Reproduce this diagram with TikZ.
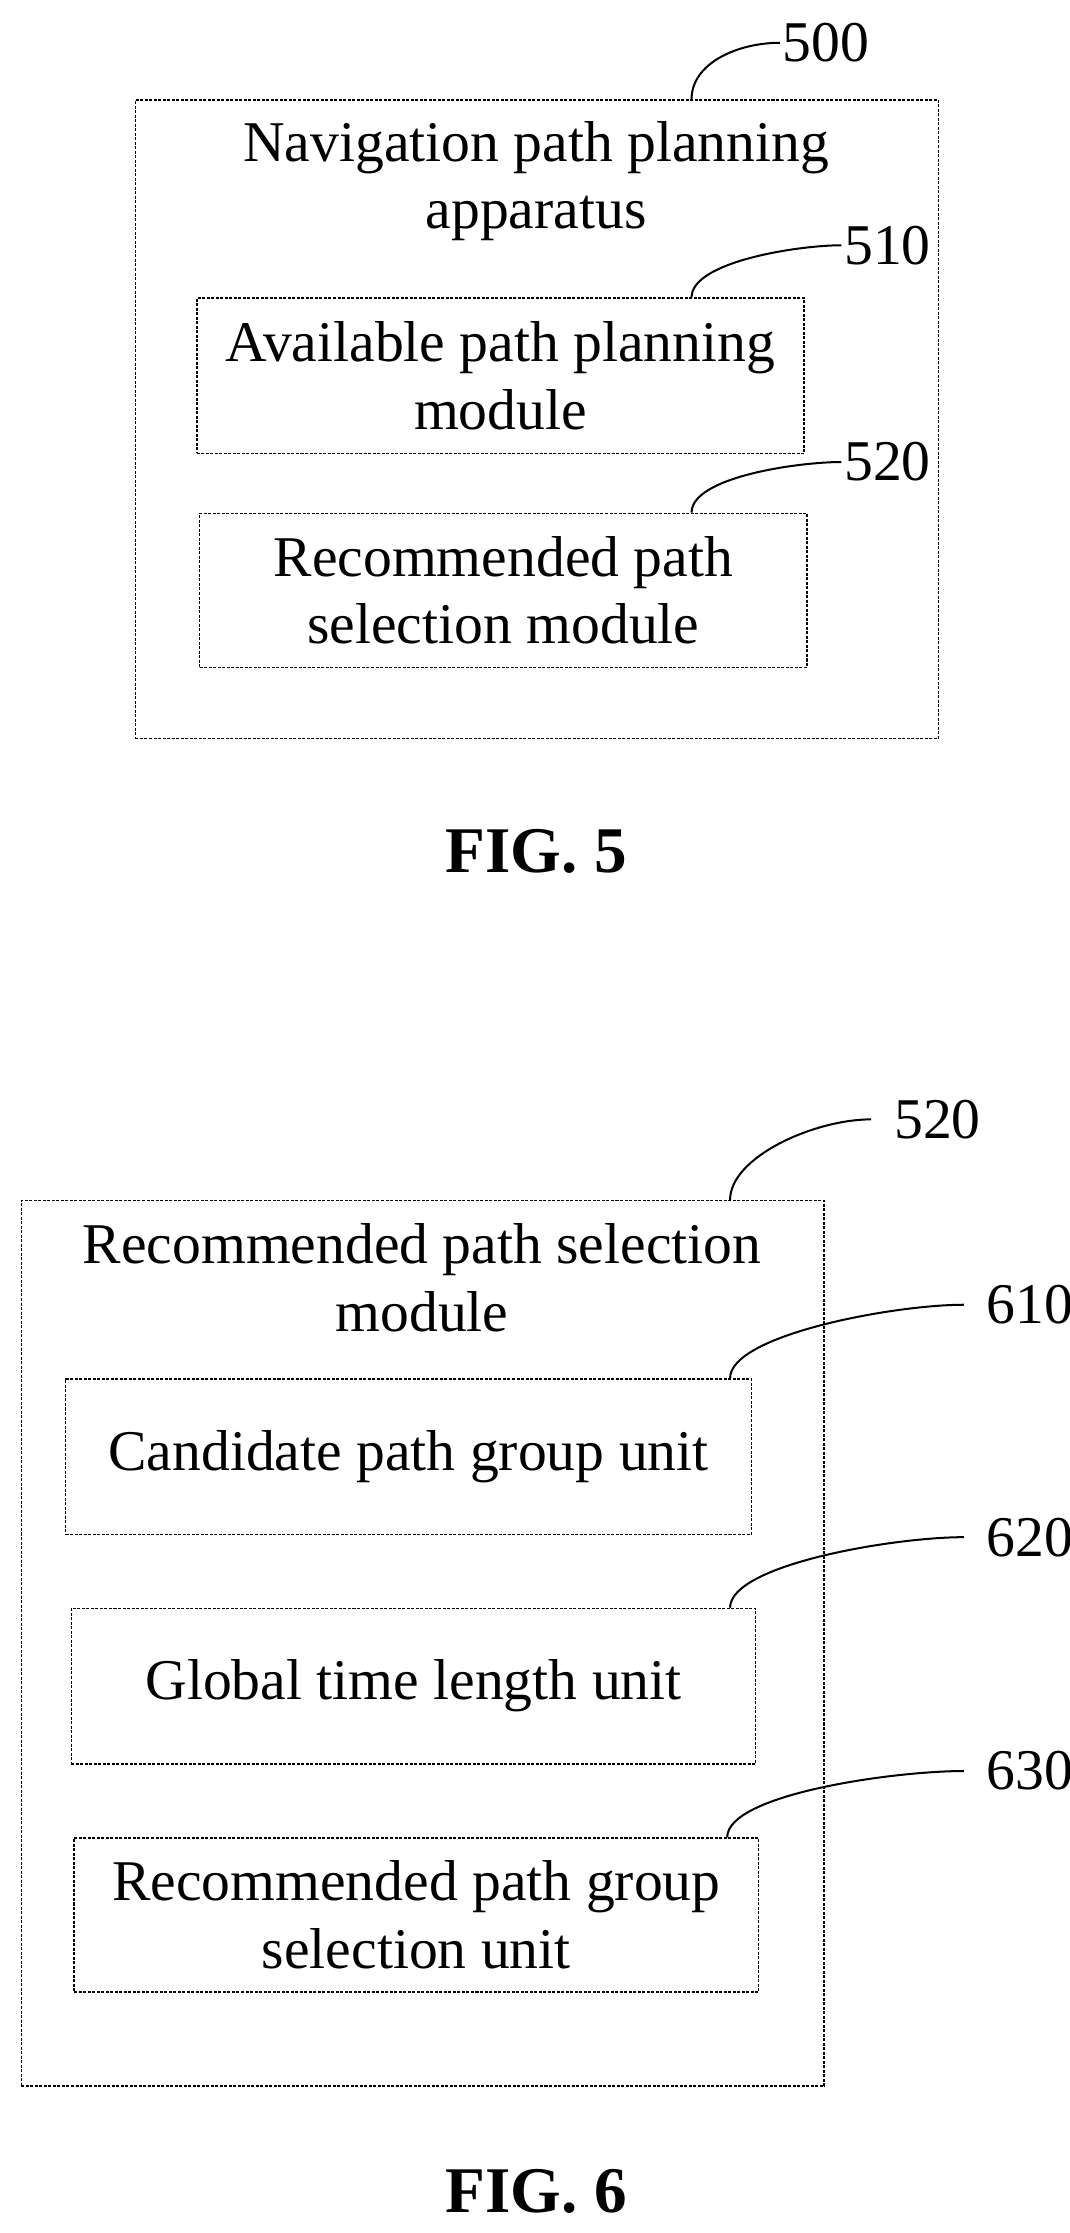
\documentclass[tikz,border=0pt]{standalone}
\usepackage{fontspec}
\setmainfont{Liberation Serif}
\usetikzlibrary{positioning}

\tikzset{
  box/.style={draw, line width=0.6pt, dash pattern=on 1.2pt off 0.6pt, align=center, inner sep=0pt},
  lead/.style={line width=0.8pt},
  num/.style={anchor=west, inner sep=1pt},
  fig/.style={font=\fontsize{26}{30}\selectfont\bfseries}
}

\begin{document}
\begin{tikzpicture}[x=0.02cm, y=-0.02cm, font=\fontsize{23}{27}\selectfont]
  \useasboundingbox (0,0) rectangle (750,1566);

  % FIG. 5
  \node[box, minimum width=563*0.02cm, minimum height=448*0.02cm] (app) at (376.5,294) {};
  \node[align=center] (appT) at (376,127) {Navigation path planning\\apparatus};
  \node[box, minimum width=426*0.02cm, minimum height=109*0.02cm] (plan) at (351,263.5) {Available path planning\\module};
  \node[box, minimum width=426*0.02cm, minimum height=108*0.02cm] (sel) at (353,414) {Recommended path\\selection module};

  \node[num] (n500) at (547,30) {500};
  \node[num] (n510) at (590,172) {510};
  \node[num] (n520) at (590,324) {520};
  \draw[lead] (app.north -| 485,0) .. controls +(0,-25) and +(-30,0) .. (n500.west);
  \draw[lead] (plan.north -| 485,0) .. controls +(0,-25) and +(-30,0) .. (n510.west);
  \draw[lead] (sel.north -| 485,0) .. controls +(0,-25) and +(-30,0) .. (n520.west);

  \node[fig] (f5) at (376,597) {FIG. 5};

  % FIG. 6
  \node[box, minimum width=563*0.02cm, minimum height=621*0.02cm] (mod) at (296.5,1152.5) {};
  \node[align=center] (modT) at (296,896) {Recommended path selection\\module};
  \node[box, minimum width=481*0.02cm, minimum height=109*0.02cm] (cand) at (286.5,1021.5) {Candidate path group unit};
  \node[box, minimum width=480*0.02cm, minimum height=109*0.02cm] (glob) at (290,1182.5) {Global time length unit};
  \node[box, minimum width=480*0.02cm, minimum height=108*0.02cm] (grp) at (292,1343) {Recommended path group\\selection unit};

  \node[num] (n520b) at (625,785) {520};
  \node[num] (n610) at (690,915) {610};
  \node[num] (n620) at (690,1078) {620};
  \node[num] (n630) at (690,1242) {630};
  \draw[lead] (mod.north -| 512,0) .. controls +(0,-30) and +(-40,0) .. ([xshift=-8pt]n520b.west);
  \draw[lead] (cand.north -| 512,0) .. controls +(0,-30) and +(-50,0) .. ([xshift=-8pt]n610.west);
  \draw[lead] (glob.north -| 512,0) .. controls +(0,-30) and +(-50,0) .. ([xshift=-8pt]n620.west);
  \draw[lead] (grp.north -| 510,0) .. controls +(0,-30) and +(-50,0) .. ([xshift=-8pt]n630.west);

  \node[fig] (f6) at (376,1537) {FIG. 6};
\end{tikzpicture}
\end{document}
